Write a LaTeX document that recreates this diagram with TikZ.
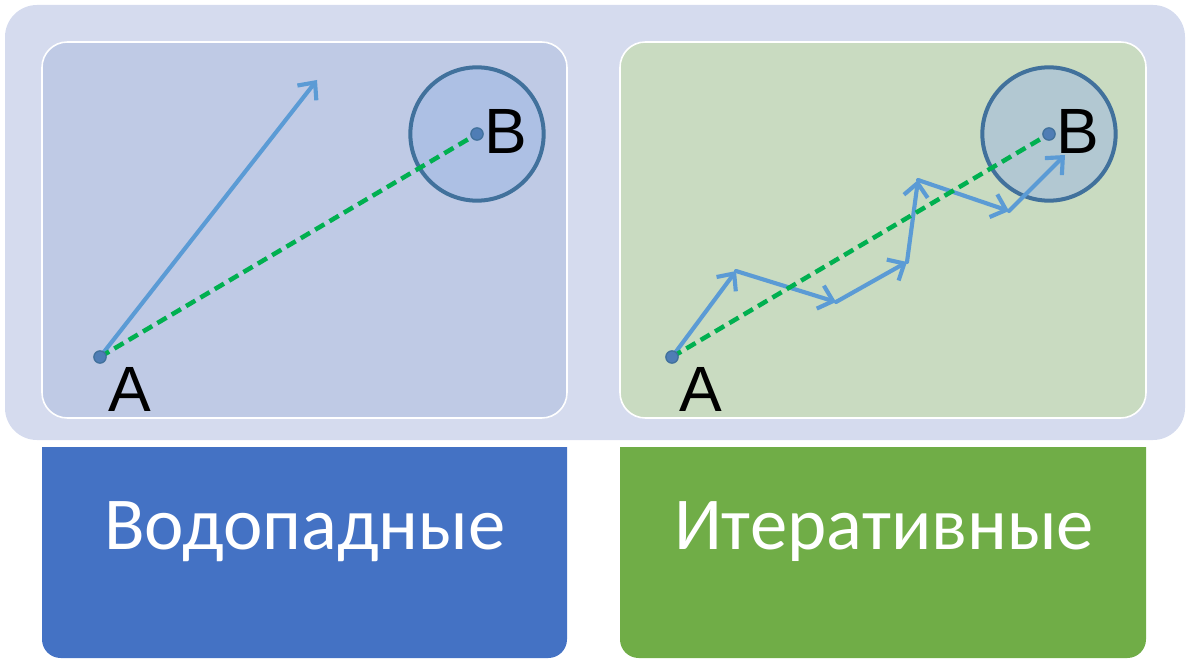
\documentclass[tikz,border=0pt]{standalone}
\usepackage{fontspec}
\setmainfont{Carlito}
\newfontfamily\ptfont{Liberation Sans}
\usetikzlibrary{arrows.meta}
\definecolor{outerbg}{HTML}{D5DBEE}
\definecolor{wfpanel}{HTML}{BFCAE5}
\definecolor{itpanel}{HTML}{C9DBC1}
\definecolor{wfbox}{HTML}{4472C4}
\definecolor{itbox}{HTML}{70AD47}
\definecolor{arrowblue}{HTML}{5B9BD5}
\definecolor{pathgreen}{HTML}{00B050}
\definecolor{ringblue}{HTML}{41719C}
\definecolor{ringfill}{HTML}{9DB7E4}
\definecolor{dotblue}{HTML}{4F7DB5}
\tikzset{
  panel/.style={draw=white,line width=1.2pt,rounded corners=19pt},
  ring/.style={draw=ringblue,line width=3pt,fill=ringfill,fill opacity=.5,draw opacity=1},
  straight/.style={draw=pathgreen,line width=3.4pt,line cap=butt,dash pattern=on 8pt off 4.5pt},
  step arrow/.style={draw=arrowblue,line width=3.1pt,-{Straight Barb[length=10pt,width=18pt,line width=3.1pt]}},
  ptlabel/.style={font=\ptfont\fontsize{48}{50}\selectfont,inner sep=0pt},
  boxlabel/.style={font=\fontsize{56}{60}\selectfont,text=white,inner sep=0pt}
}
\begin{document}
\begin{tikzpicture}[x=0.75pt,y=-0.75pt,line join=round,line cap=round]
\useasboundingbox (0,0) rectangle (1190,663);
% bottom boxes
\fill[wfbox] (42,447) -- (567,447) {[rounded corners=14pt] -- (567,658) -- (42,658)} -- cycle;
\fill[itbox] (620,447) -- (1146,447) {[rounded corners=14pt] -- (1146,658) -- (620,658)} -- cycle;
\node[boxlabel] (wflabel) at (305,532) {Водопадные};
\node[boxlabel] (itlabel) at (884,532) {Итеративные};
% background and panels
\fill[outerbg,rounded corners=24pt] (5,5) rectangle (1185,440);
\path[panel,fill=wfpanel] (42,42) rectangle (567,418);
\path[panel,fill=itpanel] (620,42) rectangle (1146,418);
\path
(100,357)coordinate(A1)
(477,134)coordinate(B1)
(317,80)coordinate(T1)
(672,357)coordinate(A2)
(1049,134)coordinate(B2)
(736,271)coordinate(P1)
(836,302)coordinate(P2)
(907,262)coordinate(P3)
(918,180)coordinate(P4)
(1009,211)coordinate(P5)
(1065,155)coordinate(P6);
\path[ring] (B1) circle (50pt) (B2) circle (50pt);
% waterfall: one straight shot
\draw[step arrow] (A1) -- (T1);
% iterative: small steps
\foreach \s/\e in {A2/P1,P1/P2,P2/P3,P3/P4,P4/P5,P5/P6}
\draw[step arrow] (\s) -- (\e);
\draw[straight] (A1) -- (B1) (A2) -- (B2);
\foreach \p in {A1,B1,A2,B2}
\draw[fill=dotblue,draw=ringblue,line width=1pt] (\p) circle (4.6pt);
\node[ptlabel] (labA1) at (130,389) {A};
\node[ptlabel] (labB1) at (506,131) {B};
\node[ptlabel] (labA2) at (701,389) {A};
\node[ptlabel] (labB2) at (1078,131) {B};
\end{tikzpicture}
\end{document}
